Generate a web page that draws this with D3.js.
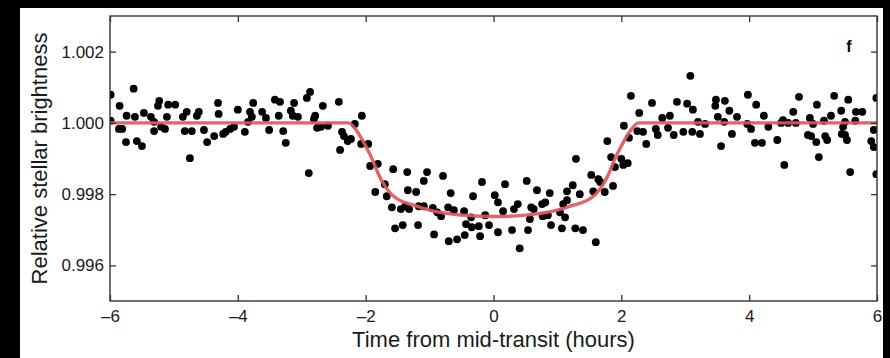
<!DOCTYPE html>
<html>
<head>
<meta charset="utf-8">
<script src="https://cdn.jsdelivr.net/npm/d3@7"></script>
<style>
  html, body { margin: 0; padding: 0; background: #000; }
  svg { display: block; }
</style>
</head>
<body>
<svg id="chart" width="890" height="358"></svg>
<script>
// observed points (hours from mid-transit, relative brightness)
var timeHours = [
  -5.99,-5.63,-5.85,-5.74,-5.61,-5.47,-5.36,-5.23,-5.25,-5.09,-4.98,-5.11,-5.31,-5.20,-5.31,-5.14,-5.86,-5.81,-5.75,-5.58,
  -5.50,-5.99,-4.86,-4.80,-4.83,-4.72,-4.75,-4.61,-4.64,-4.53,-4.48,-4.31,-4.30,-4.37,-4.23,-4.19,-4.12,-4.06,-4.00,
  -3.76,-3.81,-3.78,-3.62,-3.56,-3.84,-3.89,-3.51,-3.42,-3.34,-3.36,-3.29,-3.25,-3.17,-3.12,-3.14,-3.06,-2.92,-2.87,
  -2.79,-2.81,-2.76,-2.67,-2.70,-2.59,-2.89,-2.42,-2.37,-2.34,-2.40,-2.28,-2.23,-2.17,-2.06,-2.07,-1.96,-1.93,
  -1.81,-1.57,-1.35,-1.04,-1.09,-0.79,-1.70,-1.85,-1.67,-1.34,-1.21,-1.59,-1.45,-1.38,-1.32,-1.17,-1.09,-0.95,-0.88,
  -0.82,-0.71,-0.62,-0.67,-0.46,-0.32,-0.18,0.02,0.07,-0.13,-0.35,-0.43,-0.34,-0.23,-0.07,0.07,-0.21,-0.45,-0.57,
  -0.70,-0.93,-1.18,-1.42,-1.54,
  0.18,0.15,0.32,0.38,0.52,0.68,0.59,0.63,0.57,0.76,0.81,0.88,0.77,0.85,1.04,1.09,1.12,1.15,1.15,1.24,
  1.35,1.29,1.53,1.64,1.67,1.56,1.74,1.87,1.84,1.78,2.04,2.00,1.90,2.03,0.29,0.54,0.41,0.90,1.07,1.28,
  1.40,1.60,2.10,
  3.08,2.15,2.48,2.87,3.03,3.12,2.28,2.64,2.76,2.25,2.34,2.54,2.57,2.73,2.82,2.97,3.11,3.23,3.20,3.31,
  2.12,2.39,3.48,3.47,3.62,3.69,3.51,3.61,3.81,3.98,3.97,4.03,3.73,3.56,
  4.11,4.78,5.33,5.55,5.06,4.23,4.69,5.44,5.67,5.77,5.99,4.53,4.50,4.61,4.73,4.95,5.00,5.17,5.28,5.50,
  5.66,4.30,5.47,5.45,5.95,4.44,4.09,4.20,4.92,4.97,5.19,5.22,5.05,5.50,5.53,5.91,5.95,5.09,4.55,5.58,5.99
];
var brightness = [
  1.00079,1.00096,1.00048,1.00020,1.00017,1.00028,1.00017,1.00062,1.00048,1.00051,1.00051,1.00017,1.00003,0.99989,0.99977,0.99983,0.99983,0.99983,0.99946,0.99949,
  0.99935,1.00006,1.00017,1.00031,0.99977,0.99977,0.99901,1.00031,1.00020,0.99980,0.99946,1.00056,1.00025,0.99963,0.99969,0.99975,0.99983,0.99989,1.00037,
  1.00056,1.00031,1.00017,1.00031,1.00014,1.00003,0.99975,0.99980,1.00065,1.00059,1.00020,0.99977,0.99944,1.00034,1.00056,1.00020,1.00017,1.00070,1.00087,
  1.00020,1.00011,0.99986,1.00048,0.99989,0.99992,0.99859,1.00059,0.99975,0.99963,0.99924,0.99949,0.99955,0.99997,1.00020,0.99941,0.99941,0.99879,
  0.99885,0.99870,0.99862,0.99862,0.99837,0.99851,0.99828,0.99806,0.99794,0.99811,0.99806,0.99763,0.99758,0.99766,0.99758,0.99766,0.99766,0.99761,0.99749,
  0.99738,0.99763,0.99755,0.99803,0.99752,0.99794,0.99834,0.99797,0.99777,0.99741,0.99735,0.99716,0.99707,0.99710,0.99713,0.99693,0.99682,0.99685,0.99673,
  0.99668,0.99687,0.99713,0.99713,0.99704,
  0.99828,0.99752,0.99758,0.99772,0.99837,0.99811,0.99763,0.99758,0.99730,0.99772,0.99777,0.99803,0.99738,0.99741,0.99749,0.99772,0.99735,0.99808,0.99783,0.99825,
  0.99800,0.99899,0.99854,0.99842,0.99834,0.99808,0.99806,0.99823,0.99904,0.99949,0.99992,0.99899,0.99876,0.99882,0.99699,0.99699,0.99648,0.99713,0.99704,0.99704,
  0.99699,0.99665,0.99887,
  1.00132,1.00076,1.00056,1.00059,1.00054,1.00037,1.00028,1.00014,1.00020,0.99977,0.99975,0.99983,0.99966,0.99986,0.99966,0.99975,0.99975,0.99969,1.00003,0.99997,
  0.99958,0.99941,1.00065,1.00048,1.00062,1.00034,1.00017,1.00003,1.00017,1.00079,0.99997,0.99983,0.99969,0.99935,
  1.00051,1.00073,1.00076,1.00065,1.00051,1.00020,1.00031,1.00034,1.00031,1.00031,1.00070,1.00008,1.00000,1.00000,1.00000,1.00014,0.99997,1.00006,1.00020,1.00003,
  1.00006,0.99989,0.99989,0.99969,0.99980,0.99952,0.99944,0.99944,0.99966,0.99963,0.99963,0.99952,0.99946,0.99966,0.99952,0.99949,0.99932,0.99904,0.99882,0.99862,0.99856
];

// fitted transit model
var modelHours = [-6, -2.27, -2.15, -2.0, -1.9, -1.8, -1.7, -1.6, -1.5, -1.25, -1.0, -0.5, 0,
  0.5, 1.0, 1.25, 1.5, 1.6, 1.7, 1.8, 1.9, 2.0, 2.15, 2.27, 6];
var modelBrightness = [1.0, 1.0, 0.99980, 0.99935, 0.99899, 0.99856, 0.99823, 0.99800, 0.99786, 0.99769, 0.99755, 0.99741, 0.99737,
  0.99741, 0.99755, 0.99769, 0.99786, 0.99800, 0.99823, 0.99856, 0.99899, 0.99935, 0.99980, 1.0, 1.0];

var xTicks = [-6, -4, -2, 0, 2, 4, 6];
var yTicks = [0.996, 0.998, 1.000, 1.002];

// plot box in pixels ("top" is taken by window.top, so prefixed names)
var plotLeft = 110, plotRight = 877, plotTop = 16, plotBottom = 301;
var font = "'Liberation Sans', Arial, Helvetica, sans-serif";

var svg = d3.select("#chart");

// black surround + white panel
svg.append("rect").attr("width", 890).attr("height", 358).attr("fill", "#000");
svg.append("rect").attr("x", 20).attr("y", 8).attr("width", 863).attr("height", 350).attr("fill", "#fff");

var x = d3.scaleLinear().domain([-6, 6]).range([plotLeft, plotRight]);
var y = d3.scaleLinear().domain([0.995, 1.003]).range([plotBottom, plotTop]);

svg.append("clipPath").attr("id", "plotclip")
  .append("rect").attr("x", plotLeft).attr("y", plotTop)
  .attr("width", plotRight - plotLeft).attr("height", plotBottom - plotTop);

var plot = svg.append("g").attr("clip-path", "url(#plotclip)");

plot.selectAll(".obs").data(d3.zip(timeHours, brightness)).enter().append("circle")
  .attr("class", "obs")
  .attr("cx", function (d) { return x(d[0]); })
  .attr("cy", function (d) { return y(d[1]); })
  .attr("r", 3.9)
  .attr("fill", "#000");

var line = d3.line()
  .x(function (d) { return x(d[0]); })
  .y(function (d) { return y(d[1]); })
  .curve(d3.curveMonotoneX);

plot.append("path")
  .datum(d3.zip(modelHours, modelBrightness))
  .attr("d", line)
  .attr("fill", "none")
  .attr("stroke", "#e0565b")
  .attr("stroke-opacity", 0.92)
  .attr("stroke-width", 3.4)
  .attr("stroke-linejoin", "round");

// axes: ticks point inward on all four sides
function styleAxis(g) {
  g.select(".domain").remove();
  g.selectAll(".tick line").attr("stroke", "#333").attr("stroke-width", 1.3);
  g.selectAll(".tick text").attr("fill", "#1a1a1a").style("font-family", font).style("font-size", "17px");
}

var fmtX = function (d) { return d < 0 ? "\u2013" + Math.abs(d) : String(d); };

svg.append("g").attr("transform", "translate(0," + plotBottom + ")")
  .call(d3.axisBottom(x).tickValues(xTicks).tickSize(-6).tickPadding(9).tickFormat(fmtX))
  .call(styleAxis);
svg.append("g").attr("transform", "translate(0," + plotTop + ")")
  .call(d3.axisTop(x).tickValues(xTicks).tickSize(-6).tickFormat(""))
  .call(styleAxis);
svg.append("g").attr("transform", "translate(" + plotLeft + ",0)")
  .call(d3.axisLeft(y).tickValues(yTicks).tickSize(-6).tickPadding(6).tickFormat(d3.format(".3f")))
  .call(styleAxis);
svg.append("g").attr("transform", "translate(" + plotRight + ",0)")
  .call(d3.axisRight(y).tickValues(yTicks).tickSize(-6).tickFormat(""))
  .call(styleAxis);

// frame
svg.append("rect")
  .attr("x", plotLeft).attr("y", plotTop)
  .attr("width", plotRight - plotLeft).attr("height", plotBottom - plotTop)
  .attr("fill", "none").attr("stroke", "#333").attr("stroke-width", 1.4);

// titles
svg.append("text")
  .attr("x", (plotLeft + plotRight) / 2).attr("y", 347)
  .attr("text-anchor", "middle")
  .style("font-family", font).style("font-size", "22px").attr("fill", "#1a1a1a")
  .text("Time from mid-transit (hours)");

svg.append("text")
  .attr("transform", "translate(47," + (plotTop + plotBottom) / 2 + ") rotate(-90)")
  .attr("text-anchor", "middle")
  .style("font-family", font).style("font-size", "22px").attr("fill", "#1a1a1a")
  .text("Relative stellar brightness");

svg.append("text")
  .attr("x", 849).attr("y", 52)
  .attr("text-anchor", "middle")
  .style("font-family", font).style("font-size", "16px").style("font-weight", "bold").attr("fill", "#000")
  .text("f");
</script>
</body>
</html>
